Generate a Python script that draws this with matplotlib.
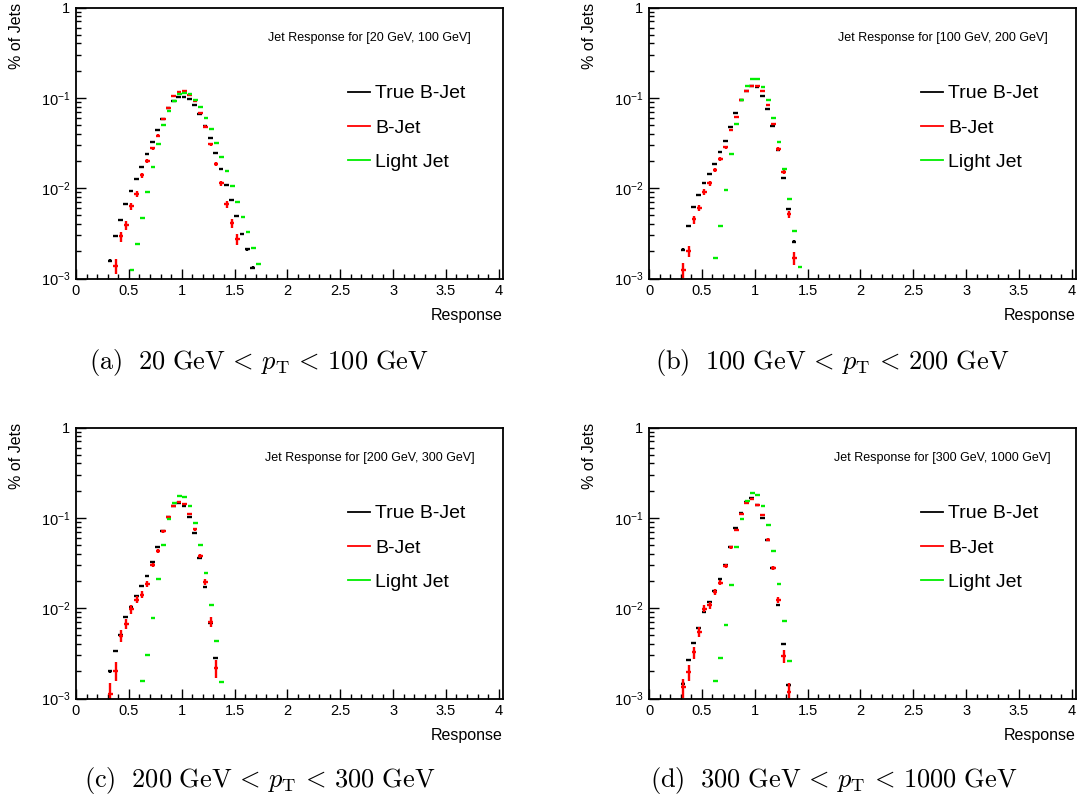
import numpy as np
import matplotlib
matplotlib.use("Agg")
import matplotlib.pyplot as plt
from matplotlib.lines import Line2D
from matplotlib.ticker import LogLocator, MultipleLocator, NullFormatter

plt.rcParams['font.family'] = ['Liberation Sans', 'DejaVu Sans']
plt.rcParams['mathtext.fontset'] = 'custom'
plt.rcParams['mathtext.rm'] = 'Liberation Sans'
plt.rcParams['mathtext.it'] = 'Liberation Sans:italic'
plt.rcParams['mathtext.bf'] = 'Liberation Sans:bold'

nan = np.nan

# response histogram bin centres (bin width 0.05)
bins = [0.325, 0.375, 0.425, 0.475, 0.525, 0.575, 0.625, 0.675, 0.725, 0.775,
        0.825, 0.875, 0.925, 0.975, 1.025, 1.075, 1.125, 1.175, 1.225, 1.275,
        1.325, 1.375, 1.425, 1.475, 1.525, 1.575, 1.625, 1.675, 1.725]
bin_half_width = 0.022

series_names = ['True B-Jet', 'B-Jet', 'Light Jet']
series_colors = ['black', '#ff0000', '#00ee00']
# effective jet counts per series, used for the statistical error bars
jets_true = 4e5
jets_light = 1e8

# [20 GeV, 100 GeV]
a_true = [1.58e-3, 2.98e-3, 4.46e-3, 6.7e-3, 9.35e-3, 1.26e-2, 1.73e-2, 2.38e-2, 3.22e-2, 4.43e-2,
          5.8e-2, 7.7e-2, 9.2e-2, 0.1026, 0.1026, 0.0967, 0.0838, 0.0662, 0.0493, 0.0356,
          0.0248, 0.0164, 0.0109, 7.45e-3, 4.93e-3, 3.11e-3, 2.11e-3, 1.32e-3, nan]
a_bjet = [nan, 1.38e-3, 2.93e-3, 3.93e-3, 6.35e-3, 8.67e-3, 1.39e-2, 2.0e-2, 2.77e-2, 3.8e-2,
          5.83e-2, 7.77e-2, 0.104, 0.115, 0.118, 0.107, 0.0912, 0.068, 0.048, 0.0305,
          0.0186, 0.01135, 6.62e-3, 4.07e-3, 2.72e-3, nan, nan, nan, nan]
a_light = [nan, nan, nan, nan, 1.23e-3, 2.38e-3, 4.66e-3, 9.12e-3, 1.73e-2, 3.08e-2,
           0.0498, 0.072, 0.0927, 0.109, 0.112, 0.110, 0.095, 0.0783, 0.0604, 0.0447,
           0.0319, 0.022, 0.0153, 0.0105, 7.08e-3, 4.81e-3, 3.24e-3, 2.17e-3, 1.46e-3]
a_jets_bjet = 2.0e4

# [100 GeV, 200 GeV]
b_true = [2.09e-3, 3.8e-3, 6.2e-3, 8.45e-3, 0.01135, 0.01436, 0.01847, 0.025, 0.033, 0.0478,
          0.068, 0.0935, 0.118, 0.134, 0.131, 0.106, 0.0745, 0.049, 0.0265, 0.013,
          5.94e-3, 2.56e-3, nan, nan, nan, nan, nan, nan, nan]
b_bjet = [1.25e-3, 2.01e-3, 4.5e-3, 6.04e-3, 9.12e-3, 0.01135, 0.016, 0.0211, 0.0284, 0.0442,
          0.0614, 0.0935, 0.118, 0.136, 0.136, 0.118, 0.0824, 0.051, 0.0272, 0.0151,
          5.15e-3, 1.7e-3, nan, nan, nan, nan, nan, nan, nan]
b_light = [nan, nan, nan, nan, nan, nan, 1.68e-3, 3.8e-3, 9.6e-3, 0.024,
           0.0519, 0.0935, 0.134, 0.161, 0.160, 0.133, 0.095, 0.0594, 0.0327, 0.0163,
           7.64e-3, 3.33e-3, 1.34e-3, nan, nan, nan, nan, nan, nan]
b_jets_bjet = 2.3e4

# [200 GeV, 300 GeV]
c_true = [2.0e-3, 3.38e-3, 5.06e-3, 8.03e-3, 0.01035, 0.01377, 0.0174, 0.0228, 0.0327, 0.0478,
          0.0709, 0.1026, 0.134, 0.147, 0.135, 0.101, 0.068, 0.0359, 0.0171, 6.9e-3,
          2.82e-3, nan, nan, nan, nan, nan, nan, nan, nan]
c_bjet = [1.12e-3, 2.04e-3, 4.93e-3, 6.7e-3, 9.67e-3, 0.01244, 0.0141, 0.0185, 0.0301, 0.0428,
          0.0709, 0.1026, 0.1365, 0.1485, 0.141, 0.1097, 0.075, 0.038, 0.0194, 7.08e-3,
          2.17e-3, nan, nan, nan, nan, nan, nan, nan, nan]
c_light = [nan, nan, nan, nan, nan, nan, 1.58e-3, 3.06e-3, 7.83e-3, 0.0208,
           0.0502, 0.0975, 0.146, 0.176, 0.170, 0.134, 0.0881, 0.0502, 0.0244, 0.0108,
           4.28e-3, 1.52e-3, nan, nan, nan, nan, nan, nan, nan]
c_jets_bjet = 9.0e3

# [300 GeV, 1000 GeV]
d_true = [1.46e-3, 2.67e-3, 4.1e-3, 6.09e-3, 8.97e-3, 0.01164, 0.0156, 0.021, 0.0298, 0.0478,
          0.0764, 0.1125, 0.1485, 0.164, 0.14, 0.099, 0.0574, 0.0281, 0.0108, 3.97e-3,
          1.4e-3, nan, nan, nan, nan, nan, nan, nan, nan]
d_bjet = [1.34e-3, 1.96e-3, 3.24e-3, 5.5e-3, 9.84e-3, 0.0108, 0.0152, 0.0191, 0.0291, 0.0473,
          0.0733, 0.1097, 0.146, 0.163, 0.140, 0.1087, 0.0574, 0.0281, 0.01225, 2.96e-3,
          1.18e-3, nan, nan, nan, nan, nan, nan, nan, nan]
d_light = [nan, nan, nan, nan, nan, nan, 1.56e-3, 2.79e-3, 6.52e-3, 0.0182,
           0.047, 0.0975, 0.152, 0.188, 0.179, 0.135, 0.0831, 0.0425, 0.0186, 7.26e-3,
           2.63e-3, nan, nan, nan, nan, nan, nan, nan, nan]
d_jets_bjet = 1.3e4

titles = ['Jet Response for [20 GeV, 100 GeV]', 'Jet Response for [100 GeV, 200 GeV]',
          'Jet Response for [200 GeV, 300 GeV]', 'Jet Response for [300 GeV, 1000 GeV]']
captions = [r'$\mathrm{(a)\ \ 20\ GeV}\,<\,p_\mathrm{T}\,<\,\mathrm{100\ GeV}$',
            r'$\mathrm{(b)\ \ 100\ GeV}\,<\,p_\mathrm{T}\,<\,\mathrm{200\ GeV}$',
            r'$\mathrm{(c)\ \ 200\ GeV}\,<\,p_\mathrm{T}\,<\,\mathrm{300\ GeV}$',
            r'$\mathrm{(d)\ \ 300\ GeV}\,<\,p_\mathrm{T}\,<\,\mathrm{1000\ GeV}$']
xtick_values = [0, 0.5, 1, 1.5, 2, 2.5, 3, 3.5, 4]
xtick_labels = ['0', '0.5', '1', '1.5', '2', '2.5', '3', '3.5', '4']
ytick_values = [1e-3, 1e-2, 1e-1, 1]
ytick_labels = [r'$10^{-3}$', r'$10^{-2}$', r'$10^{-1}$', '1']

panels = [(a_true, a_bjet, a_light, a_jets_bjet),
          (b_true, b_bjet, b_light, b_jets_bjet),
          (c_true, c_bjet, c_light, c_jets_bjet),
          (d_true, d_bjet, d_light, d_jets_bjet)]

fig = plt.figure(figsize=(10.9, 8.02), dpi=100)
W, H = 1090.0, 802.0
rects = [(76, 278.5), (649, 278.5), (76, 698.5), (649, 698.5)]
caption_pos = [(259, 362), (832, 362), (260, 781), (834, 781)]

x_shift = [-0.004, 0.0, 0.004]
bx = np.array(bins)

for i, (true_v, bjet_v, light_v, n_bjet) in enumerate(panels):
    left, bottom = rects[i]
    ax = fig.add_axes([left / W, 1 - bottom / H, 427 / W, 271 / H])
    counts = [jets_true, n_bjet, jets_light]
    for vals, n, color, dx in zip([true_v, bjet_v, light_v], counts, series_colors, x_shift):
        v = np.array(vals)
        ok = ~np.isnan(v)
        err = np.sqrt(v[ok] / n)
        ax.errorbar(bx[ok] + dx, v[ok], xerr=bin_half_width, yerr=err, fmt='none',
                    ecolor=color, elinewidth=1.7, capsize=0)

    ax.set_yscale('log')
    ax.set_xlim(0, 4.04)
    ax.set_ylim(1e-3, 1)
    ax.set_xticks(xtick_values, xtick_labels)
    ax.xaxis.set_minor_locator(MultipleLocator(0.1))
    ax.set_yticks(ytick_values, ytick_labels)
    ax.yaxis.set_minor_locator(LogLocator(base=10, subs=np.arange(2, 10)))
    ax.yaxis.set_minor_formatter(NullFormatter())
    ax.tick_params(which='both', direction='in', top=False, right=False, labelsize=10.5, width=1)
    ax.tick_params(which='major', length=7)
    ax.tick_params(which='minor', length=3.5)
    ax.tick_params(axis='x', pad=4)
    ax.tick_params(axis='y', pad=4)
    for sp in ax.spines.values():
        sp.set_linewidth(1.3)

    ax.text(0.688, 0.887, titles[i], transform=ax.transAxes, ha='center', va='center', fontsize=9)
    ax.text(-0.139, 1.017, '% of Jets', transform=ax.transAxes, rotation=90,
            ha='center', va='top', fontsize=11.5)
    ax.text(1.0, -0.138, 'Response', transform=ax.transAxes, ha='right', va='center', fontsize=11.5)

    handles = [Line2D([], [], color=c, lw=1.3) for c in series_colors]
    ax.legend(handles, series_names, loc='center left', bbox_to_anchor=(0.637, 0.556),
              frameon=False, fontsize=14, handlelength=1.13, handletextpad=0.26,
              labelspacing=0.85, borderpad=0, borderaxespad=0)

    cx, cy = caption_pos[i]
    fig.text(cx / W, 1 - cy / H, captions[i], ha='center', va='center', fontsize=19,
             math_fontfamily='cm')

fig.savefig('out.png', dpi=100)
